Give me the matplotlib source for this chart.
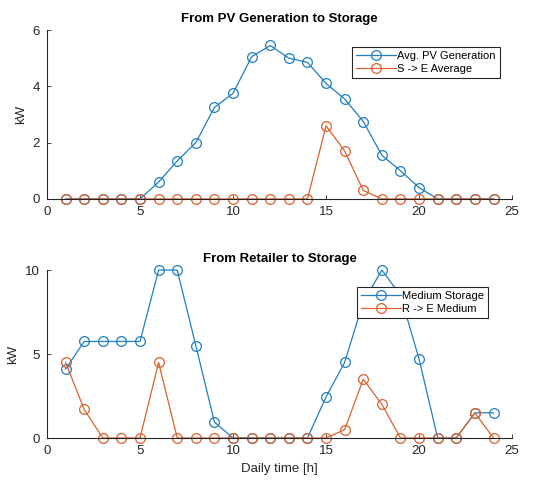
import matplotlib
matplotlib.use("Agg")
import matplotlib.pyplot as plt

plt.rcParams["font.family"] = ["Liberation Sans", "DejaVu Sans"]

hours = list(range(1, 25))

# top panel
pv_gen = [0, 0, 0, 0, 0, 0.6, 1.35, 2.0, 3.25, 3.75, 5.05, 5.45,
          5.0, 4.85, 4.1, 3.55, 2.75, 1.55, 1.0, 0.4, 0, 0, 0, 0]
s_to_e = [0, 0, 0, 0, 0, 0, 0, 0, 0, 0, 0, 0,
          0, 0, 2.6, 1.7, 0.3, 0, 0, 0, 0, 0, 0, 0]

# bottom panel
med_storage = [4.1, 5.75, 5.75, 5.75, 5.75, 10, 10, 5.5, 0.95, 0, 0, 0,
               0, 0, 2.45, 4.5, 8.1, 10, 8.5, 4.7, 0, 0, 1.5, 1.5]
r_to_e = [4.5, 1.7, 0, 0, 0, 4.5, 0, 0, 0, 0, 0, 0,
          0, 0, 0, 0.5, 3.5, 2.0, 0, 0, 0, 0, 1.5, 0]

BLUE = "#1f7fbf"
ORANGE = "#d9622e"
AXC = "#262626"

fig = plt.figure(figsize=(5.34, 4.84), dpi=100)
ax1 = fig.add_axes([0.088, 0.589, 0.871, 0.349])
ax2 = fig.add_axes([0.088, 0.095, 0.871, 0.347])

def style(ax, ylim, yticks):
    ax.set_xlim(0, 25)
    ax.set_ylim(*ylim)
    ax.set_xticks([0, 5, 10, 15, 20, 25])
    ax.set_yticks(yticks)
    for s in ("top", "right"):
        ax.spines[s].set_visible(False)
    for s in ("left", "bottom"):
        ax.spines[s].set_color(AXC)
        ax.spines[s].set_linewidth(0.8)
    ax.tick_params(direction="in", length=3, labelsize=9.5, colors=AXC,
                   width=0.6, pad=5)
    ax.set_ylabel("kW", fontsize=9.5, color=AXC)

kw = dict(marker="o", mfc="none", ms=7, lw=0.9, mew=0.9, clip_on=False)

ax1.plot(hours, pv_gen, color=BLUE, label="Avg. PV Generation", **kw)
ax1.plot(hours, s_to_e, color=ORANGE, label="S -> E Average", **kw)
style(ax1, (0, 6), [0, 2, 4, 6])
ax1.set_title("From PV Generation to Storage", fontsize=9.5,
              fontweight="bold", pad=6)
leg1 = ax1.legend(loc="upper right", bbox_to_anchor=(0.985, 0.93),
                  fontsize=8, handlelength=3.6, borderpad=0.35,
                  labelspacing=0.25, handletextpad=0.1, fancybox=False,
                  framealpha=1, edgecolor=AXC)
leg1.get_frame().set_linewidth(0.8)
leg1.set_zorder(5)

ax2.plot(hours, med_storage, color=BLUE, label="Medium Storage", **kw)
ax2.plot(hours, r_to_e, color=ORANGE, label="R -> E Medium", **kw)
style(ax2, (0, 10), [0, 5, 10])
ax2.set_title("From Retailer to Storage", fontsize=9.5,
              fontweight="bold", pad=6)
ax2.set_xlabel("Daily time [h]", fontsize=9.5, color=AXC)
leg2 = ax2.legend(loc="upper right", bbox_to_anchor=(0.96, 0.93),
                  fontsize=8, handlelength=3.6, borderpad=0.35,
                  labelspacing=0.25, handletextpad=0.1, fancybox=False,
                  framealpha=1, edgecolor=AXC)
leg2.get_frame().set_linewidth(0.8)
leg2.set_zorder(5)

fig.savefig("out.png", dpi=100)
